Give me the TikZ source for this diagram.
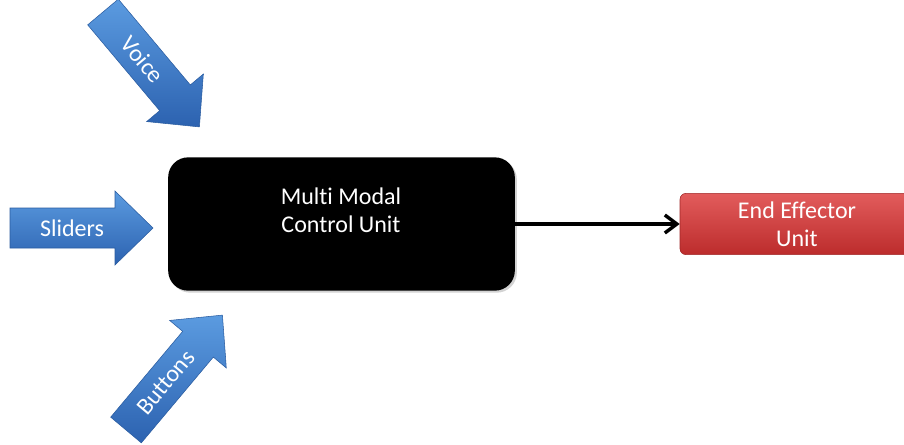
\documentclass[tikz,border=0pt]{standalone}
\usepackage{fontspec}
\setmainfont{Carlito}[Ligatures={NoCommon,NoRequired,NoContextual}]
\usetikzlibrary{arrows.meta,shadows}
\definecolor{bluetop}{HTML}{5B9BE0}
\definecolor{bluebot}{HTML}{2C62B0}
\definecolor{blueedge}{HTML}{2A5CA0}
\definecolor{redtop}{HTML}{E25C5C}
\definecolor{redbot}{HTML}{BC2C2C}
\definecolor{rededge}{HTML}{A02828}
\tikzset{
  barrow/.style={top color=bluetop, bottom color=bluebot, draw=blueedge, line width=0.4pt},
  btext/.style={text=white, font=\fontsize{18}{21}\selectfont, inner sep=0pt},
  blackbox/.style={fill=black, rounded corners=15pt, minimum width=260pt, minimum height=100pt,
    drop shadow={opacity=0.35, shadow xshift=1.5pt, shadow yshift=-1.5pt}},
  wtext/.style={text=white, align=center, font=\fontsize{18}{21}\selectfont, inner sep=0pt},
  redbox/.style={top color=redtop, bottom color=redbot, draw=rededge, line width=0.4pt,
    rounded corners=4.5pt, minimum width=175.5pt, minimum height=46pt,
    text=white, align=center, font=\fontsize{18}{21}\selectfont, inner sep=0pt},
  conn/.style={draw=black, line width=2.6pt, -{Straight Barb[length=9pt,width=13.5pt]}}
}
\newcommand{\inarrow}[6]{% name, tail x, tail y, angle, length, text
  \begin{scope}[shift={(#2,#3)}, rotate=#4]
    \shade[barrow] (0,-20) -- ({#5-38},-20) -- ({#5-38},-37) -- (#5,0) -- ({#5-38},37) -- ({#5-38},20) -- (0,20) -- cycle;
    \node[btext, transform shape] (#1) at (62,0) {#6};
  \end{scope}}
\begin{document}
\begin{tikzpicture}[x=0.75pt, y=-0.75pt]
  \clip (0,0) rectangle (904,444);
  \useasboundingbox (0,0) rectangle (904,444);
  \inarrow{voice}{103}{12}{-50}{150}{Voice}
  \inarrow{sliders}{10}{228}{0}{143}{Sliders}
  \inarrow{buttons}{126}{430}{50}{150}{Buttons}
  \node[blackbox] (mmcu) at (341.5,224) {};
  \node[wtext] (mmcut) at (341,210) {Multi Modal\\Control Unit};
  \node[redbox] (eeu) at (797,224) {End Effector\\Unit};
  \draw[conn] (mmcu.east) -- (eeu.west);
\end{tikzpicture}
\end{document}
